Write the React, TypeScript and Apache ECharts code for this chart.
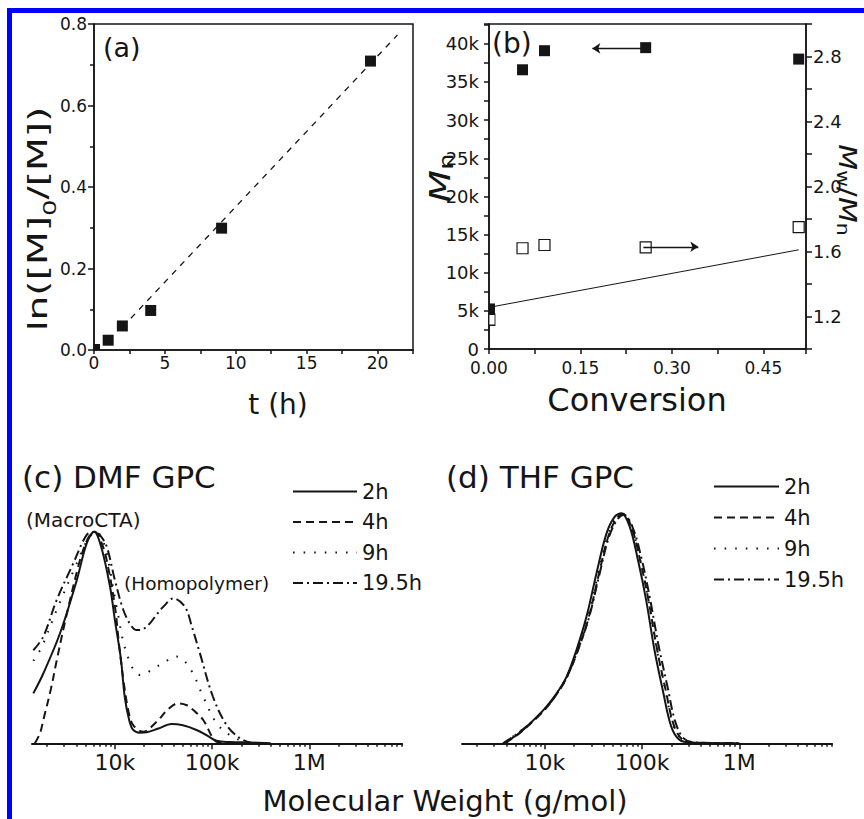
import React, { useEffect, useRef } from 'react';
import * as echarts from 'echarts';

const FONT = 'DejaVu Sans';
const INK = '#151515';

// ---------- (a) kinetics ----------
const timeH = [0, 1, 2, 4, 9, 19.5];
const lnM0M = [0, 0.024, 0.059, 0.097, 0.299, 0.709];
const fitTime = [2.6, 21.4];
const fitLn = [0.078, 0.773];

// ---------- (b) Mn and PDI vs conversion ----------
const conversion = [0.0, 0.055, 0.091, 0.257, 0.508];
const mnValues = [5250, 36600, 39100, 39500, 38000];
const pdiValues = [1.18, 1.62, 1.64, 1.625, 1.75];
const theoryConv = [0.003, 0.508];
const theoryMn = [5500, 13000];
const arrowMnX = [0.2505, 0.1695];
const arrowMnY = 39400;
const arrowPdiX = [0.2532, 0.3434];
const arrowPdiY = 1.629;

// ---------- (c) DMF GPC ----------
const dmf2hM = [1445, 1830, 2720, 4040, 5120, 6120, 7200, 8900, 10000, 11500, 12600, 14000, 15400, 18000, 21200, 28000, 38300, 50000, 69000, 90000, 111000, 150000, 250000, 400000];
const dmf2hY = [0.236, 0.33, 0.52, 0.77, 0.945, 1.0, 0.93, 0.74, 0.58, 0.4, 0.22, 0.11, 0.063, 0.05, 0.052, 0.07, 0.091, 0.085, 0.063, 0.035, 0.012, 0.006, 0.004, 0.0];
const dmf4hM = [1500, 1700, 1830, 2200, 2510, 3190, 4370, 5300, 6200, 7100, 8220, 10000, 11000, 12200, 13800, 15400, 19500, 26900, 35000, 44800, 55000, 64000, 81000, 102000, 115000, 160000, 300000];
const dmf4hY = [0, 0.05, 0.11, 0.26, 0.39, 0.61, 0.866, 0.97, 1.0, 0.96, 0.866, 0.645, 0.47, 0.3, 0.15, 0.086, 0.055, 0.102, 0.16, 0.189, 0.18, 0.157, 0.11, 0.024, 0.005, 0.003, 0];
const dmf9hM = [1445, 1770, 2510, 4040, 5200, 6490, 7300, 8220, 10400, 13200, 18100, 29000, 43100, 59200, 81000, 111000, 152000, 209000, 300000];
const dmf9hY = [0.39, 0.457, 0.63, 0.85, 0.96, 1.0, 0.97, 0.9, 0.645, 0.425, 0.323, 0.37, 0.41, 0.354, 0.22, 0.095, 0.039, 0.01, 0];
const dmf19hM = [1445, 1830, 2510, 3720, 5120, 6200, 7100, 8220, 10000, 12200, 14500, 16700, 19500, 22900, 27000, 31400, 39800, 52500, 62000, 74900, 102000, 141000, 193000, 260000];
const dmf19hY = [0.44, 0.504, 0.677, 0.85, 0.985, 1.0, 0.98, 0.93, 0.77, 0.63, 0.56, 0.535, 0.54, 0.567, 0.61, 0.645, 0.685, 0.645, 0.55, 0.425, 0.22, 0.086, 0.024, 0];

// ---------- (d) THF GPC ----------
const thf2hM = [3730, 5130, 7020, 10000, 13200, 16700, 21100, 26800, 33900, 43000, 52300, 61200, 74500, 90600, 110000, 134000, 163000, 199000, 243000, 332000, 1000000];
const thf2hY = [0, 0.039, 0.094, 0.165, 0.236, 0.315, 0.441, 0.6, 0.803, 0.992, 1.071, 1.087, 1.024, 0.866, 0.677, 0.441, 0.252, 0.08, 0.016, 0.003, 0];
const thf4hM = [3900, 5200, 7000, 10000, 13200, 16700, 21500, 28000, 35500, 45000, 55000, 64000, 78000, 96000, 117000, 143000, 175000, 212000, 260000, 350000, 1000000];
const thf4hY = [0, 0.04, 0.09, 0.16, 0.232, 0.31, 0.43, 0.59, 0.79, 0.98, 1.065, 1.085, 1.02, 0.86, 0.67, 0.44, 0.25, 0.085, 0.018, 0.003, 0];
const thf9hM = [3800, 5100, 7000, 10000, 13200, 16700, 21300, 27600, 35000, 44500, 54500, 63500, 77000, 95000, 116000, 141000, 172000, 208000, 255000, 340000, 900000];
const thf9hY = [0, 0.045, 0.092, 0.163, 0.235, 0.313, 0.435, 0.595, 0.795, 0.985, 1.07, 1.085, 1.025, 0.87, 0.68, 0.45, 0.26, 0.09, 0.02, 0.004, 0];
const thf19hM = [3700, 5000, 7000, 10000, 13200, 16700, 21400, 28200, 36000, 45500, 56000, 65000, 80000, 99000, 121000, 148000, 182000, 220000, 270000, 360000, 1000000];
const thf19hY = [0, 0.04, 0.093, 0.162, 0.233, 0.31, 0.432, 0.59, 0.79, 0.975, 1.06, 1.08, 1.02, 0.87, 0.68, 0.46, 0.27, 0.1, 0.022, 0.004, 0];

const timeLabels = ['2h', '4h', '9h', '19.5h'];
const mwMajorTicks = [1e4, 1e5, 1e6];
const mwMinorTicks = [2e3, 3e3, 4e3, 5e3, 6e3, 7e3, 8e3, 9e3, 2e4, 3e4, 4e4, 5e4, 6e4, 7e4, 8e4, 9e4, 2e5, 3e5, 4e5, 5e5, 6e5, 7e5, 8e5, 9e5, 2e6, 3e6, 4e6, 5e6, 6e6, 7e6, 8e6, 9e6];

const dashTypes: any[] = ['solid', [8, 5], [1.6, 9], [10, 4, 2, 4]];

const zip = (xs: number[], ys: number[]) => xs.map((x, i) => [x, ys[i]]);

const axisLineStyle = { color: INK, width: 1.5 };
const tickLabel = { fontFamily: FONT, fontSize: 17, color: INK };

function mwLabel(v: number) {
  const l = Math.round(Math.log10(v) * 1000) / 1000;
  if (l === 4) return '10k';
  if (l === 5) return '100k';
  if (l === 6) return '1M';
  return '';
}

export default function App() {
  const ref = useRef<HTMLDivElement>(null);

  useEffect(() => {
    if (!ref.current) return;
    const chart = echarts.init(ref.current, undefined, { renderer: 'svg' });

    const gpcSeries = (name: string, idx: number, ms: number[], ys: number[], xi: number, yi: number) => ({
      type: 'line',
      name,
      xAxisIndex: xi,
      yAxisIndex: yi,
      data: zip(ms, ys),
      smooth: 0.35,
      symbol: 'none',
      lineStyle: { color: INK, width: 2, type: dashTypes[idx] },
      itemStyle: { color: INK },
      z: 3,
    });

    const logAxisMajor = (gridIndex: number) => ({
      type: 'log',
      gridIndex,
      position: 'bottom',
      logBase: 10,
      min: 1400,
      max: 9e6,
      axisLine: { show: true, lineStyle: { color: INK, width: 2 } },
      axisTick: { show: true, length: 6, customValues: mwMajorTicks, lineStyle: { color: INK, width: 1.5 } },
      axisLabel: { ...tickLabel, fontSize: 22, margin: 8, customValues: mwMajorTicks, formatter: mwLabel },
      splitLine: { show: false },
      minorTick: { show: false },
    });
    const logAxisMinor = (gridIndex: number) => ({
      type: 'log',
      gridIndex,
      position: 'bottom',
      offset: 0,
      logBase: 10,
      min: 1400,
      max: 9e6,
      axisLine: { show: false },
      axisTick: { show: true, length: 3.5, customValues: mwMinorTicks, lineStyle: { color: INK, width: 1.5 } },
      axisLabel: { show: false },
      splitLine: { show: false },
    });

    const legendBase = {
      orient: 'vertical',
      itemHeight: 14,
      selectedMode: false,
      itemStyle: { color: 'rgba(0,0,0,0)', borderWidth: 0, opacity: 0 },
      textStyle: { fontFamily: FONT, fontSize: 21, lineHeight: 21, color: INK },
    };

    const option: any = {
      animation: false,
      backgroundColor: '#ffffff',
      grid: [
        { left: 94, top: 24, width: 319, height: 326, show: true, borderColor: INK, borderWidth: 1.5, backgroundColor: 'transparent' },
        { left: 489, top: 24, width: 317, height: 325, show: true, borderColor: INK, borderWidth: 1.5, backgroundColor: 'transparent' },
        { left: 32, top: 500, width: 370, height: 243.3 },
        { left: 462, top: 500, width: 370, height: 243.3 },
      ],
      xAxis: [
        {
          type: 'value', gridIndex: 0, min: 0, max: 22.5, interval: 2.5,
          axisLine: { lineStyle: axisLineStyle },
          axisTick: { length: 4, lineStyle: axisLineStyle },
          axisLabel: { ...tickLabel, margin: 4, formatter: (v: number) => (Math.abs(v / 5 - Math.round(v / 5)) < 1e-6 ? String(Math.round(v)) : '') },
          splitLine: { show: false },
        },
        {
          type: 'value', gridIndex: 1, min: 0, max: 0.52, interval: 0.075,
          axisLine: { lineStyle: axisLineStyle },
          axisTick: { length: 5, lineStyle: axisLineStyle },
          axisLabel: { ...tickLabel, margin: 12, lineHeight: 14, formatter: (v: number) => (Math.abs(v / 0.15 - Math.round(v / 0.15)) < 1e-6 ? v.toFixed(2) : '') },
          splitLine: { show: false },
        },
        logAxisMajor(2),
        logAxisMinor(2),
        logAxisMajor(3),
        logAxisMinor(3),
      ],
      yAxis: [
        {
          type: 'value', gridIndex: 0, min: 0, max: 0.8, interval: 0.2,
          axisLine: { show: true, lineStyle: axisLineStyle },
          axisTick: { show: true, length: 6, lineStyle: axisLineStyle },
          minorTick: { show: true, splitNumber: 2, length: 4, lineStyle: axisLineStyle },
          axisLabel: { ...tickLabel, margin: 7, formatter: (v: number) => v.toFixed(1) },
          splitLine: { show: false },
        },
        {
          type: 'value', gridIndex: 1, min: 0, max: 42600, interval: 2500,
          axisLine: { show: true, lineStyle: axisLineStyle },
          axisTick: { show: true, length: 5, lineStyle: axisLineStyle },
          axisLabel: { ...tickLabel, fontSize: 18, lineHeight: 13, margin: 10, formatter: (v: number) => (v % 5000 === 0 ? (v === 0 ? '0' : v / 1000 + 'k') : '') },
          splitLine: { show: false },
        },
        {
          type: 'value', gridIndex: 1, position: 'right', min: 1, max: 3, interval: 0.2,
          axisLine: { show: true, lineStyle: axisLineStyle },
          axisTick: { show: true, length: 6, lineStyle: axisLineStyle },
          axisLabel: {
            ...tickLabel, fontSize: 18, margin: 7,
            formatter: (v: number) => {
              const k = Math.round(v * 10);
              return k >= 12 && k <= 28 && k % 4 === 0 ? v.toFixed(1) : '';
            },
          },
          splitLine: { show: false },
        },
        { type: 'value', gridIndex: 2, min: 0, max: 1.15, show: false },
        { type: 'value', gridIndex: 3, min: 0, max: 1.15, show: false },
      ],
      legend: [
        { ...legendBase, data: timeLabels, left: 287, top: 476, itemWidth: 64, itemGap: 9.5 },
        { ...legendBase, data: timeLabels, left: 708, top: 471, itemWidth: 65, itemGap: 10 },
      ],
      series: [
        // (a)
        {
          type: 'line', name: 'fit', xAxisIndex: 0, yAxisIndex: 0,
          data: zip(fitTime, fitLn), symbol: 'none',
          lineStyle: { color: INK, width: 1.3, type: [6, 6] }, z: 2,
        },
        {
          type: 'scatter', name: 'ln', xAxisIndex: 0, yAxisIndex: 0,
          data: zip(timeH, lnM0M).map((p, i) => (i === 0 ? { value: p, symbolSize: 6, symbolOffset: [3, -3] } : p)),
          symbol: 'rect', symbolSize: 11, itemStyle: { color: INK, opacity: 1 }, z: 4,
        },
        // (b)
        {
          type: 'line', name: 'theory', xAxisIndex: 1, yAxisIndex: 1,
          data: zip(theoryConv, theoryMn), symbol: 'none',
          lineStyle: { color: INK, width: 1 }, z: 2,
        },
        {
          type: 'scatter', name: 'Mn', xAxisIndex: 1, yAxisIndex: 1,
          data: zip(conversion, mnValues).map((p, i) => (i === 0 ? { value: p, symbolSize: [6, 11], symbolOffset: [3, 0] } : p)),
          symbol: 'rect', symbolSize: 11, itemStyle: { color: INK, opacity: 1 }, z: 4,
          markLine: {
            silent: true, symbol: ['none', 'arrow'], symbolSize: 8, animation: false,
            label: { show: false },
            lineStyle: { color: INK, width: 1.3, type: 'solid', opacity: 1 },
            data: [[{ coord: [arrowMnX[0], arrowMnY] }, { coord: [arrowMnX[1], arrowMnY] }]],
          },
        },
        {
          type: 'scatter', name: 'PDI', xAxisIndex: 1, yAxisIndex: 2,
          data: zip(conversion, pdiValues).map((p, i) => (i === 0 ? { value: p, symbolSize: [6, 11], symbolOffset: [3, 0] } : p)),
          symbol: 'rect', symbolSize: 11,
          itemStyle: { color: '#ffffff', borderColor: INK, borderWidth: 1.2, opacity: 1 }, z: 4,
          markLine: {
            silent: true, symbol: ['none', 'arrow'], symbolSize: 8, animation: false,
            label: { show: false },
            lineStyle: { color: INK, width: 1.3, type: 'solid', opacity: 1 },
            data: [[{ coord: [arrowPdiX[0], arrowPdiY] }, { coord: [arrowPdiX[1], arrowPdiY] }]],
          },
        },
        // (c)
        gpcSeries('2h', 0, dmf2hM, dmf2hY, 2, 3),
        gpcSeries('4h', 1, dmf4hM, dmf4hY, 2, 3),
        gpcSeries('9h', 2, dmf9hM, dmf9hY, 2, 3),
        gpcSeries('19.5h', 3, dmf19hM, dmf19hY, 2, 3),
        // (d)
        gpcSeries('2h', 0, thf2hM, thf2hY, 4, 4),
        gpcSeries('4h', 1, thf4hM, thf4hY, 4, 4),
        gpcSeries('9h', 2, thf9hM, thf9hY, 4, 4),
        gpcSeries('19.5h', 3, thf19hM, thf19hY, 4, 4),
      ],
      graphic: [
        { type: 'rect', shape: { x: 7, y: 8, width: 857, height: 5 }, style: { fill: '#0000ff' }, silent: true },
        { type: 'rect', shape: { x: 7, y: 8, width: 5, height: 811 }, style: { fill: '#0000ff' }, silent: true },
        { type: 'text', x: 103, y: 47, style: { text: '(a)', fontFamily: FONT, fontSize: 27, fill: INK, align: 'left', verticalAlign: 'middle' } },
        { type: 'text', x: 492, y: 43, style: { text: '(b)', fontFamily: FONT, fontSize: 28, fill: INK, align: 'left', verticalAlign: 'middle' } },
        { type: 'text', x: 278, y: 404, style: { text: 't (h)', fontFamily: FONT, fontSize: 28, fill: INK, align: 'center', verticalAlign: 'middle' } },
        { type: 'text', x: 637, y: 400, style: { text: 'Conversion', fontFamily: FONT, fontSize: 32, fill: INK, align: 'center', verticalAlign: 'middle' } },
        {
          type: 'text', x: 38, y: 219, rotation: Math.PI / 2, scaleX: 1.45,
          style: {
            text: '{m|ln([M]}{s|0}{m|/[M])}', align: 'center', verticalAlign: 'middle', fill: INK,
            rich: {
              m: { fontFamily: FONT, fontSize: 27, lineHeight: 42, verticalAlign: 'middle', fill: INK },
              s: { fontFamily: FONT, fontSize: 18, lineHeight: 18, verticalAlign: 'bottom', fill: INK },
            },
          },
        },
        {
          type: 'text', x: 440, y: 178, rotation: Math.PI / 2, scaleX: 1.35,
          style: {
            text: '{i|M}{s|n}', align: 'center', verticalAlign: 'middle', fill: INK,
            rich: {
              i: { fontFamily: FONT, fontSize: 28, fontStyle: 'italic', lineHeight: 32, verticalAlign: 'middle', fill: INK },
              s: { fontFamily: FONT, fontSize: 19, lineHeight: 19, verticalAlign: 'bottom', fill: INK },
            },
          },
        },
        {
          type: 'text', x: 848, y: 190, rotation: -Math.PI / 2, scaleX: 1.2,
          style: {
            text: '{i|M}{s|w}{m|/}{i|M}{s|n}', align: 'center', verticalAlign: 'middle', fill: INK,
            rich: {
              i: { fontFamily: FONT, fontSize: 25, fontStyle: 'italic', lineHeight: 28, verticalAlign: 'middle', fill: INK },
              m: { fontFamily: FONT, fontSize: 25, lineHeight: 28, verticalAlign: 'middle', fill: INK },
              s: { fontFamily: FONT, fontSize: 17, lineHeight: 17, verticalAlign: 'bottom', fill: INK },
            },
          },
        },
        { type: 'text', x: 22, y: 477, style: { text: '(c) DMF GPC', fontFamily: FONT, fontSize: 31, fill: INK, align: 'left', verticalAlign: 'middle' } },
        { type: 'text', x: 26, y: 520, style: { text: '(MacroCTA)', fontFamily: FONT, fontSize: 20, fill: INK, align: 'left', verticalAlign: 'middle' } },
        { type: 'text', x: 124, y: 583, style: { text: '(Homopolymer)', fontFamily: FONT, fontSize: 18.5, fill: INK, align: 'left', verticalAlign: 'middle' } },
        { type: 'text', x: 446, y: 477, style: { text: '(d) THF GPC', fontFamily: FONT, fontSize: 31, fill: INK, align: 'left', verticalAlign: 'middle' } },
        { type: 'text', x: 445, y: 801, style: { text: 'Molecular Weight (g/mol)', fontFamily: FONT, fontSize: 29, fill: INK, align: 'center', verticalAlign: 'middle' } },
      ],
    };

    chart.setOption(option);
    return () => chart.dispose();
  }, []);

  return <div ref={ref} style={{ position: 'absolute', left: 0, top: 0, width: 864, height: 819, background: '#fff' }} />;
}
